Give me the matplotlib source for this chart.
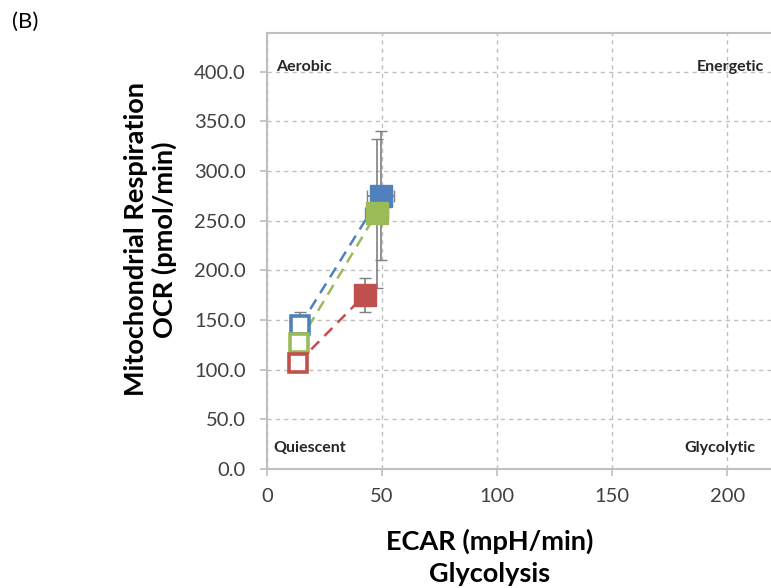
import numpy as np
import matplotlib.pyplot as plt

plt.rcParams['font.family'] = ['Lato', 'DejaVu Sans']

# open squares = baseline, filled squares = stressed
groups = ['blue', 'green', 'red']
colors = ['#4F81BD', '#9BBB59', '#C0504D']
base_ecar = [14.6, 13.9, 13.6]
base_ocr = [145.0, 127.0, 107.0]
base_ocr_err = [13.5, 8.0, 6.0]
stress_ecar = [49.4, 47.7, 42.6]
stress_ocr = [275.0, 257.6, 175.3]
stress_ocr_err = [65.0, 75.0, 17.5]
stress_ecar_err = [6.0, 5.0, 2.0]

yticks = [0, 50, 100, 150, 200, 250, 300, 350, 400]
xticks = [0, 50, 100, 150, 200]
quadrants = [('Aerobic', 4, 405, 'left'), ('Energetic', 216, 405, 'right'),
             ('Quiescent', 3, 21, 'left'), ('Glycolytic', 212, 21, 'right')]

fig = plt.figure(figsize=(7.71, 5.88), dpi=100)
ax = fig.add_axes([0.346, 0.2024, 0.654, 0.7415])

ax.set_xlim(0, 219)
ax.set_ylim(0, 439)

for i in range(3):
    ax.plot([base_ecar[i], stress_ecar[i]], [base_ocr[i], stress_ocr[i]],
            ls=(0, (4.5, 3)), color=colors[i], lw=1.8, zorder=2)

for i in range(3):
    ax.errorbar(base_ecar[i], base_ocr[i], yerr=base_ocr_err[i], fmt='none',
                ecolor='#7F7F7F', elinewidth=1.2, capsize=4, zorder=3)
    ax.errorbar(stress_ecar[i], stress_ocr[i], yerr=stress_ocr_err[i],
                xerr=stress_ecar_err[i], fmt='none', ecolor='#7F7F7F',
                elinewidth=1.2, capsize=4, zorder=3)

for i in range(3):
    ax.plot(base_ecar[i], base_ocr[i], marker='s', ms=13.5, mfc='white',
            mec=colors[i], mew=2.6, ls='none', zorder=4)
for i in [2, 0, 1]:
    ax.plot(stress_ecar[i], stress_ocr[i], marker='s', ms=16, mfc=colors[i],
            mec=colors[i], ls='none', zorder=5)

ax.set_xticks(xticks)
ax.set_yticks(yticks)
ax.set_yticklabels(['%.1f' % v for v in yticks])
ax.tick_params(axis='both', labelsize=14.5, colors='#BFBFBF', labelcolor='#404040',
               length=5, width=1.2)
ax.tick_params(axis='y', pad=10)
ax.tick_params(axis='x', pad=9)
ax.grid(True, ls=(0, (3, 3)), color='#BFBFBF', lw=1)
ax.set_axisbelow(True)
for s in ['left', 'bottom', 'top']:
    ax.spines[s].set_color('#BFBFBF')
    ax.spines[s].set_linewidth(1.5)
ax.spines['right'].set_visible(False)

for label, x, y, ha in quadrants:
    ax.text(x, y, label, ha=ha, va='center', fontsize=11.5, fontweight='bold',
            color='#262626', zorder=6)

fig.text(0.195, 0.593, 'Mitochondrial Respiration\nOCR (pmol/min)', rotation=90,
         ha='center', va='center', fontsize=19.5, fontweight='bold',
         linespacing=1.15)
fig.text(0.635, 0.053, 'ECAR (mpH/min)\nGlycolysis', ha='center', va='center',
         fontsize=19.5, fontweight='bold', linespacing=1.4)
fig.text(0.015, 0.962, '(B)', ha='left', va='center', fontsize=16)

fig.savefig('out.png', dpi=100)
